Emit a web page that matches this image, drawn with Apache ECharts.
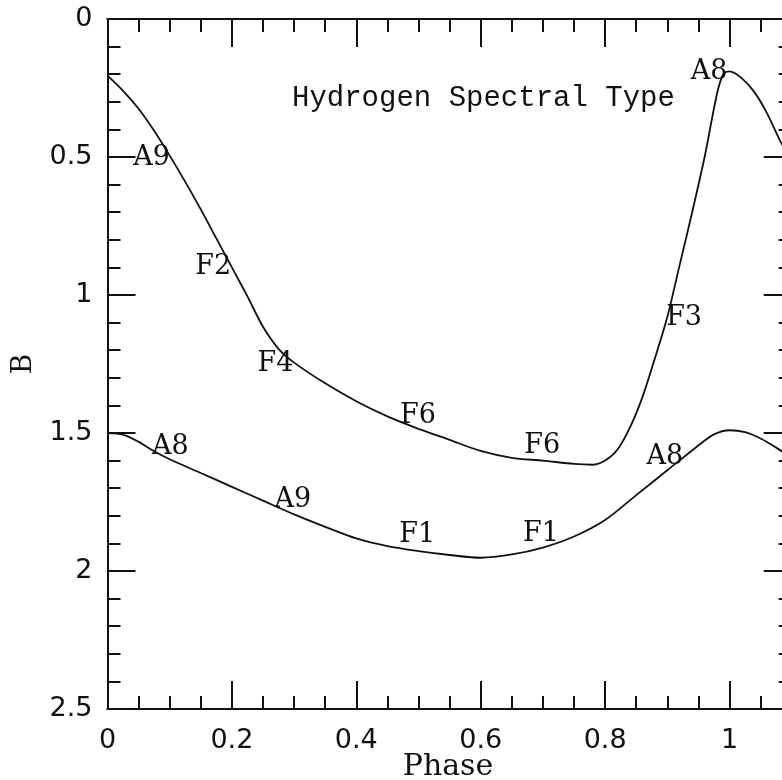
<!DOCTYPE html>
<html>
<head>
<meta charset="utf-8">
<script src="https://cdn.jsdelivr.net/npm/echarts@6/dist/echarts.min.js"></script>
<style>
html,body{margin:0;padding:0;background:#fff;overflow:hidden;}
#c{width:800px;height:780px;}
</style>
</head>
<body>
<div id="c"></div>
<script>
// Upper curve (phase, B)
const upperPhase = [0, 0.025, 0.05, 0.075, 0.1, 0.125, 0.15, 0.175, 0.2, 0.225, 0.25, 0.275, 0.3, 0.35, 0.4, 0.45, 0.5, 0.55, 0.6, 0.65, 0.7, 0.75, 0.78, 0.8, 0.82, 0.84, 0.86, 0.88, 0.9, 0.92, 0.94, 0.96, 0.98, 0.99, 1.0, 1.02, 1.04, 1.06, 1.08, 1.1];
const upperB     = [0.205, 0.26, 0.325, 0.405, 0.495, 0.59, 0.69, 0.795, 0.9, 1.005, 1.115, 1.195, 1.245, 1.32, 1.385, 1.44, 1.485, 1.525, 1.565, 1.59, 1.6, 1.612, 1.615, 1.6, 1.56, 1.48, 1.37, 1.23, 1.08, 0.89, 0.7, 0.5, 0.27, 0.2, 0.19, 0.215, 0.265, 0.34, 0.435, 0.52];
// Lower curve
const lowerPhase = [0, 0.025, 0.05, 0.075, 0.1, 0.15, 0.2, 0.25, 0.3, 0.35, 0.4, 0.45, 0.5, 0.55, 0.6, 0.65, 0.7, 0.75, 0.8, 0.85, 0.9, 0.95, 0.975, 1.0, 1.025, 1.05, 1.075, 1.1];
const lowerB     = [1.5, 1.506, 1.532, 1.566, 1.595, 1.645, 1.695, 1.745, 1.795, 1.84, 1.882, 1.91, 1.928, 1.942, 1.952, 1.94, 1.915, 1.875, 1.815, 1.725, 1.635, 1.545, 1.505, 1.49, 1.497, 1.52, 1.553, 1.59];
// Spectral type annotations
const typeText  = ['A9', 'F2', 'F4', 'F6', 'F6', 'F3', 'A8', 'A8', 'A9', 'F1', 'F1', 'A8'];
const typePhase = [0.071, 0.170, 0.270, 0.499, 0.699, 0.927, 0.967, 0.101, 0.298, 0.498, 0.697, 0.896];
const typeB     = [0.503, 0.898, 1.250, 1.439, 1.547, 1.083, 0.192, 1.551, 1.743, 1.870, 1.866, 1.587];
// Axis ticks
const xTickValues = [0, 0.2, 0.4, 0.6, 0.8, 1];
const yTickValues = [0, 0.5, 1, 1.5, 2, 2.5];
const xMin = 0, xMax = 1.1, yMin = 0, yMax = 2.5;
const titleText = 'Hydrogen Spectral Type';
const xTitle = 'Phase';
const yTitle = 'B';

const ink = '#111';
const serif = '"DejaVu Serif", serif';
const sans = '"DejaVu Sans", sans-serif';

function xAx(pos, interval, len, labels) {
  return {
    type: 'value', position: pos, min: xMin, max: xMax, interval: interval,
    splitLine: {show: false},
    axisLine: {show: true, onZero: false, lineStyle: {color: ink, width: 2}},
    axisTick: {show: true, inside: true, length: len, lineStyle: {color: ink, width: 2}},
    axisLabel: labels ? {
      show: true, margin: 18, color: ink, fontFamily: sans, fontSize: 27,
      formatter: v => xTickValues.some(t => Math.abs(t - v) < 1e-9) ? String(+v.toFixed(1)) : ''
    } : {show: false}
  };
}
function yAx(pos, interval, len, labels) {
  return {
    type: 'value', position: pos, min: yMin, max: yMax, interval: interval, inverse: true,
    splitLine: {show: false},
    axisLine: {show: true, onZero: false, lineStyle: {color: ink, width: 2}},
    axisTick: {show: true, inside: true, length: len, lineStyle: {color: ink, width: 2}},
    axisLabel: labels ? {
      show: true, margin: 15, color: ink, fontFamily: sans, fontSize: 27,
      formatter: v => yTickValues.some(t => Math.abs(t - v) < 1e-9) ? String(+v.toFixed(1)) : ''
    } : {show: false}
  };
}

const chart = echarts.init(document.getElementById('c'), null, {renderer: 'canvas'});
chart.setOption({
  animation: false,
  backgroundColor: '#fff',
  grid: {left: 107.5, right: 8.3, top: 19, bottom: 71, containLabel: false, outerBoundsMode: 'none'},
  xAxis: [
    xAx('bottom', 0.2, 28, true),
    xAx('bottom', 0.05, 13, false),
    xAx('top', 0.2, 28, false),
    xAx('top', 0.05, 13, false)
  ],
  yAxis: [
    yAx('left', 0.5, 28, true),
    yAx('left', 0.1, 13, false),
    yAx('right', 0.5, 28, false),
    yAx('right', 0.1, 13, false)
  ],
  graphic: [
    {
      type: 'text', left: 292, top: 84,
      style: {text: titleText, fill: ink, font: '29px "Liberation Mono", monospace'}
    },
    {
      type: 'text', x: 448, y: 767,
      style: {text: xTitle, fill: ink, font: '30px "DejaVu Serif", serif', align: 'center', verticalAlign: 'middle'}
    },
    {
      type: 'text', x: 24, y: 364, rotation: Math.PI / 2,
      style: {text: yTitle, fill: ink, font: '28px "DejaVu Serif", serif', align: 'center', verticalAlign: 'middle'}
    }
  ],
  series: [
    {
      type: 'line', xAxisIndex: 0, yAxisIndex: 0, showSymbol: false, smooth: 0.3,
      lineStyle: {color: ink, width: 1.8},
      data: upperPhase.map((p, i) => [p, upperB[i]])
    },
    {
      type: 'line', xAxisIndex: 0, yAxisIndex: 0, showSymbol: false, smooth: 0.3,
      lineStyle: {color: ink, width: 1.8},
      data: lowerPhase.map((p, i) => [p, lowerB[i]])
    },
    {
      type: 'scatter', xAxisIndex: 0, yAxisIndex: 0, symbolSize: 0,
      itemStyle: {opacity: 1},
      label: {
        show: true, position: 'inside', color: ink, opacity: 1, fontFamily: serif, fontSize: 27,
        formatter: p => typeText[p.dataIndex]
      },
      data: typePhase.map((p, i) => [p, typeB[i]])
    }
  ]
});
</script>
</body>
</html>
